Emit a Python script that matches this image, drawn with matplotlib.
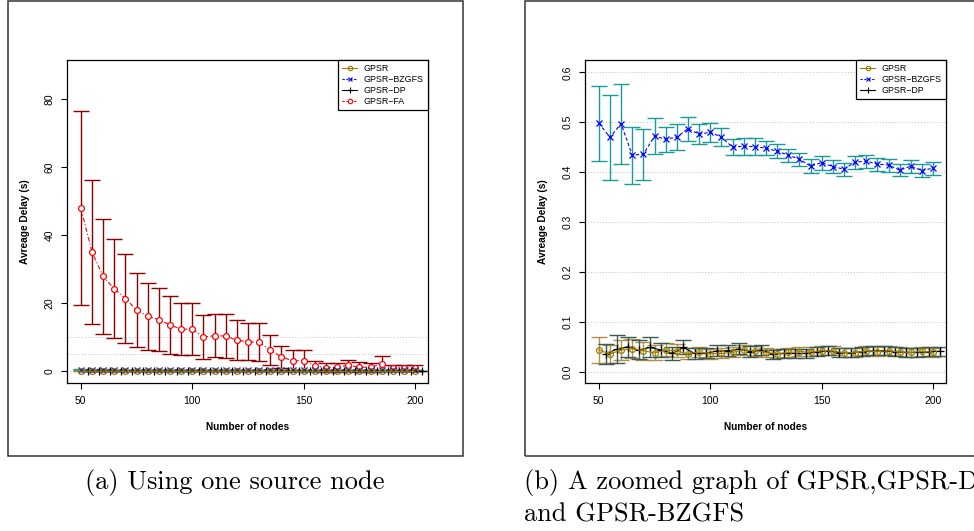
import matplotlib
matplotlib.use('Agg')
import matplotlib.pyplot as plt
from matplotlib.lines import Line2D
from matplotlib.patches import Rectangle
from matplotlib.ticker import FormatStrFormatter

plt.rcParams['font.family'] = ['Liberation Sans', 'DejaVu Sans']

# ---------------- data ----------------
nodes = [50, 55, 60, 65, 70, 75, 80, 85, 90, 95, 100, 105, 110, 115, 120, 125,
         130, 135, 140, 145, 150, 155, 160, 165, 170, 175, 180, 185, 190, 195, 200]
dp_nodes = [53, 58, 63, 68, 73, 78, 83, 88, 93, 98, 103, 108, 113, 118, 123, 128,
            133, 138, 143, 148, 153, 158, 163, 168, 173, 178, 183, 188, 193, 198, 203]

fa_mean = [48.0, 35.1, 27.9, 24.3, 21.4, 18.1, 16.2, 15.2, 13.7, 12.4, 12.4, 10.1, 10.5,
           10.4, 9.2, 8.7, 8.6, 6.3, 4.3, 3.1, 3.2, 1.7, 1.1, 1.2, 1.8, 1.3, 1.2, 2.2,
           1.1, 1.0, 1.0]
fa_sd = [28.4, 21.1, 16.8, 14.5, 13.0, 10.9, 9.8, 9.2, 8.5, 7.6, 7.6, 6.5, 6.4, 6.4,
         5.8, 5.4, 5.5, 4.3, 3.3, 3.1, 3.0, 1.5, 1.4, 1.3, 1.7, 1.5, 1.4, 2.2, 0.9, 0.9, 1.0]

bz_mean = [0.498, 0.470, 0.497, 0.434, 0.436, 0.472, 0.466, 0.470, 0.487, 0.476, 0.480,
           0.470, 0.450, 0.452, 0.451, 0.448, 0.442, 0.434, 0.426, 0.412, 0.419, 0.411,
           0.406, 0.420, 0.422, 0.416, 0.414, 0.404, 0.412, 0.403, 0.408]
bz_sd = [0.075, 0.085, 0.080, 0.057, 0.051, 0.036, 0.025, 0.026, 0.024, 0.020, 0.019,
         0.018, 0.016, 0.017, 0.017, 0.014, 0.014, 0.013, 0.013, 0.014, 0.014, 0.013,
         0.013, 0.013, 0.013, 0.013, 0.013, 0.012, 0.013, 0.013, 0.013]

gpsr_mean = [0.0435, 0.0355, 0.0435, 0.046, 0.042, 0.0375, 0.0435, 0.0415, 0.0355, 0.0395,
             0.036, 0.0365, 0.0385, 0.044, 0.0415, 0.0385, 0.036, 0.0385, 0.040, 0.0395,
             0.042, 0.0415, 0.038, 0.038, 0.0415, 0.040, 0.042, 0.0395, 0.0385, 0.041, 0.0385]
gpsr_sd = [0.027, 0.018, 0.020, 0.019, 0.018, 0.015, 0.013, 0.013, 0.011, 0.010, 0.010,
           0.010, 0.010, 0.010, 0.010, 0.009, 0.009, 0.009, 0.009, 0.009, 0.009, 0.009,
           0.009, 0.009, 0.009, 0.009, 0.009, 0.009, 0.009, 0.009, 0.009]

dp_mean = [0.035, 0.045, 0.050, 0.0435, 0.0485, 0.0435, 0.0365, 0.0485, 0.0365, 0.0365,
           0.0415, 0.042, 0.0455, 0.040, 0.0435, 0.035, 0.0365, 0.0365, 0.0365, 0.040,
           0.0415, 0.038, 0.038, 0.040, 0.0415, 0.042, 0.040, 0.0385, 0.0385, 0.0395, 0.041]
dp_sd = [0.020, 0.028, 0.020, 0.019, 0.020, 0.014, 0.013, 0.014, 0.011, 0.010, 0.011,
         0.011, 0.011, 0.011, 0.010, 0.009, 0.009, 0.009, 0.009, 0.009, 0.009, 0.009,
         0.009, 0.009, 0.009, 0.009, 0.009, 0.009, 0.009, 0.009, 0.009]

labels = ['GPSR', 'GPSR\u2212BZGFS', 'GPSR\u2212DP', 'GPSR\u2212FA']

C_GPSR = '#9a7d00'
C_GPSR_ERR = '#b09045'
C_BZ = '#0000ff'
C_BZ_ERR = '#1a9a9a'
C_DP = '#000000'
C_DP_ERR = '#3b5b5b'
C_FA = '#ff0000'
C_FA_ERR = '#8b0000'

W, H = 974, 531
fig = plt.figure(figsize=(W / 100, H / 100), dpi=100)


def fx(px):
    return px / W


def fy(py):
    return 1 - py / H


# outer frames
for x0, x1 in [(8, 463), (525, 990)]:
    fig.add_artist(Rectangle((fx(x0), fy(456)), fx(x1) - fx(x0), fy(0.6) - fy(456),
                             transform=fig.transFigure, fill=False,
                             edgecolor='#333333', lw=1.1))


def panel(ax, with_fa, ylim, yticks, grid_y, yfmt):
    ax.set_xlim(43.8, 205.8)
    ax.set_ylim(*ylim)
    for g in grid_y:
        ax.axhline(g, color='#c0c0c0', lw=0.7, ls=(0, (1, 2)), zorder=0)
    ew = 1.0
    cs = 5.8
    if with_fa:
        ax.errorbar(nodes, fa_mean, yerr=fa_sd, fmt='none', ecolor=C_FA_ERR,
                    elinewidth=ew, capsize=cs, capthick=ew, zorder=2)
    ax.errorbar(nodes, bz_mean, yerr=bz_sd, fmt='none', ecolor=C_BZ_ERR,
                elinewidth=ew, capsize=cs, capthick=ew, zorder=2)
    ax.errorbar(nodes, gpsr_mean, yerr=gpsr_sd, fmt='none', ecolor=C_GPSR_ERR,
                elinewidth=ew, capsize=cs, capthick=ew, zorder=2)
    ax.errorbar(dp_nodes, dp_mean, yerr=dp_sd, fmt='none', ecolor=C_DP_ERR,
                elinewidth=ew, capsize=cs, capthick=ew, zorder=2)
    if with_fa:
        ax.plot(nodes, fa_mean, color=C_FA, lw=0.8, ls=(0, (4, 2, 1, 2)), marker='o',
                mfc='white', mec=C_FA, ms=4.2, mew=0.9, zorder=3)
    ax.plot(nodes, bz_mean, color=C_BZ, lw=0.8, ls=(0, (3, 2)), marker='x',
            mec=C_BZ, ms=4.2, mew=0.9, zorder=3)
    ax.plot(dp_nodes, dp_mean, color=C_DP, lw=0.8, ls='-', marker='+',
            mec=C_DP, ms=6, mew=0.9, zorder=3)
    ax.plot(nodes, gpsr_mean, color=C_GPSR, lw=0.8, ls='-', marker='o',
            mfc='none', mec=C_GPSR, ms=4.2, mew=0.9, zorder=4)

    ax.set_xticks([50, 100, 150, 200])
    ax.set_yticks(yticks)
    ax.yaxis.set_major_formatter(FormatStrFormatter(yfmt))
    ax.tick_params(direction='out', length=4.5, width=0.8, labelsize=7.5, color='black')
    ax.tick_params(axis='x', pad=5.2)
    ax.tick_params(axis='y', pad=4.6, labelrotation=90)
    for lab in ax.get_yticklabels():
        lab.set_va('center')
    for s in ax.spines.values():
        s.set_linewidth(0.9)
        s.set_color('black')

    n = 4 if with_fa else 3
    handles = [
        Line2D([0], [0], color=C_GPSR, lw=0.8, marker='o', mfc='none', mec=C_GPSR, ms=3.2, mew=0.8),
        Line2D([0], [0], color=C_BZ, lw=0.8, ls=(0, (2, 1.5)), marker='x', mec=C_BZ, ms=3.2, mew=0.8),
        Line2D([0], [0], color=C_DP, lw=0.8, marker='+', mec=C_DP, ms=5, mew=0.8),
        Line2D([0], [0], color=C_FA, lw=0.8, ls=(0, (2, 1.5)), marker='o', mfc='white', mec=C_FA, ms=3.2, mew=0.8),
    ][:n]
    leg = ax.legend(handles, labels[:n], loc='upper right', bbox_to_anchor=(1, 1),
                    borderaxespad=0, fancybox=False, edgecolor='black', framealpha=1,
                    fontsize=6.4, handlelength=1.7, handletextpad=0.75,
                    labelspacing=0.22, borderpad=0.45)
    leg.get_frame().set_linewidth(0.9)
    leg.set_zorder(10)


ax1 = fig.add_axes([fx(67), fy(383), fx(428) - fx(67), fy(60) - fy(383)])
panel(ax1, True, (-3.4, 91.5), [0, 20, 40, 60, 80], [0, 5, 10], '%d')

ax2 = fig.add_axes([fx(585), fy(383), fx(946) - fx(585), fy(60) - fy(383)])
panel(ax2, False, (-0.0227, 0.6247), [0.0, 0.1, 0.2, 0.3, 0.4, 0.5, 0.6],
      [0.0, 0.1, 0.2, 0.3, 0.4, 0.5, 0.6], '%.1f')

# axis labels
for cx, lx in [(247.5, 25), (765.5, 543)]:
    fig.text(fx(cx), fy(427), 'Number of nodes', ha='center', va='center',
             fontsize=7.3, fontweight='bold')
    fig.text(fx(lx), fy(222), 'Avreage Delay (s)', ha='center', va='center',
             fontsize=7.3, fontweight='bold', rotation=90)

# captions
fig.text(fx(235), fy(483), '(a) Using one source node', ha='center', va='center',
         fontsize=19, family='cmr10')
fig.text(fx(524), fy(483), '(b) A zoomed graph of GPSR,GPSR-DP', ha='left', va='center',
         fontsize=19, family='cmr10')
fig.text(fx(524), fy(515), 'and GPSR-BZGFS', ha='left', va='center',
         fontsize=19, family='cmr10')

fig.savefig('out.png', dpi=100)
